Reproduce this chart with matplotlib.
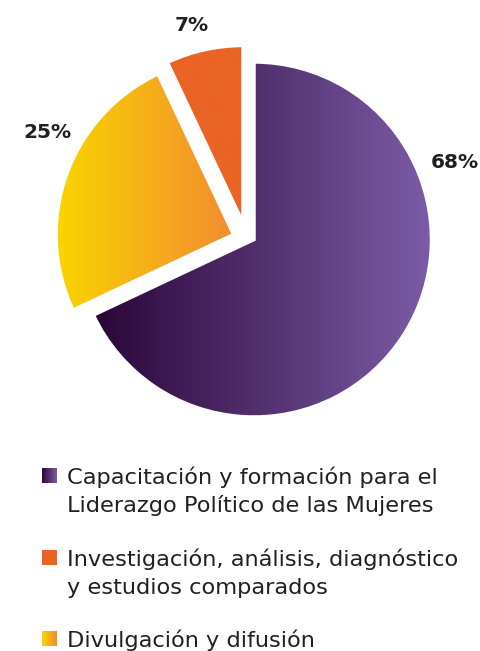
import numpy as np
import matplotlib
matplotlib.use("Agg")
import matplotlib.pyplot as plt

# data
shares = [68, 25, 7]
pct_labels = ["68%", "25%", "7%"]
legend_labels = [
    "Capacitación y formación para el\nLiderazgo Político de las Mujeres",
    "Investigación, análisis, diagnóstico\ny estudios comparados",
    "Divulgación y difusión",
]
# gradient colours (left -> right) per slice, in pie order
grad_colors = [("#2a0637", "#7c5ca7"), ("#f9d500", "#f28c30"), ("#ea6425", "#ea6425")]
# legend order: purple, orange, yellow
legend_order = [0, 2, 1]

W, H = 480, 651
fig = plt.figure(figsize=(W / 100, H / 100), dpi=100)

# pie axes (top part), center at pixel (254, 239.5), radius 177.5 px
R = 177.5
cx, cy = 254, 239.5
ax_h = 440
ax = fig.add_axes([0, (H - ax_h) / H, 1, ax_h / H])
ax.axis("off")

wedges, _ = ax.pie(shares, startangle=90, counterclock=False, radius=1,
                   wedgeprops=dict(facecolor="none", edgecolor="white", linewidth=2.5))

# offsets of the pulled-out slices (data units)
offsets = [(0, 0), (-0.115, 0.028), (-0.062, 0.093)]


def grad_img(c1, c2, n=256):
    a = np.array(matplotlib.colors.to_rgb(c1))
    b = np.array(matplotlib.colors.to_rgb(c2))
    t = np.linspace(0, 1, n)[None, :, None]
    return a + (b - a) * t


for w, off, (c1, c2) in zip(wedges, offsets, grad_colors):
    w.set_center(off)
    w.set_zorder(3)
    ext = w.get_path().get_extents()
    im = ax.imshow(grad_img(c1, c2), extent=[ext.x0, ext.x1, ext.y0, ext.y1],
                   aspect="auto", zorder=2, interpolation="bilinear")
    im.set_clip_path(w)

ax.set_xlim(-cx / R, (W - cx) / R)
ax.set_ylim(-(ax_h - cy) / R, cy / R)

label_pos = [(1.132, 0.431), (-1.166, 0.60), (-0.349, 1.208)]
for (x, y), t in zip(label_pos, pct_labels):
    ax.text(x, y, t, ha="center", va="center", fontsize=14.5,
            fontweight="bold", color="#231f20", family="DejaVu Sans")

# legend axes in pixel coords
lg = fig.add_axes([0, 0, 1, (H - ax_h) / H])
lg.axis("off")

base_y = [484, 566, 647]
line_gap = 27.5
for k, (i, y) in enumerate(zip(legend_order, base_y)):
    c1, c2 = grad_colors[i]
    lg.imshow(grad_img(c1, c2), extent=[42, 57, y - 1, y - 16], aspect="auto",
              interpolation="bilinear", zorder=2)
    for j, line in enumerate(legend_labels[k].split("\n")):
        lg.text(67, y + j * line_gap, line, ha="left", va="baseline",
                fontsize=16.2, color="#231f20", family="DejaVu Sans")

lg.set_xlim(0, W)
lg.set_ylim(H, ax_h)

fig.savefig("out.png", dpi=100, facecolor="white")
